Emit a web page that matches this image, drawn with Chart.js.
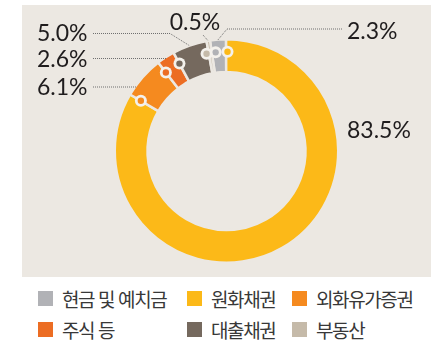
<!DOCTYPE html>
<html lang="ko">
<head>
<meta charset="utf-8">
<title>자산 구성</title>
<script src="https://cdn.jsdelivr.net/npm/chart.js@4.4.0/dist/chart.umd.min.js"></script>
<style>
  html, body { margin: 0; padding: 0; background: #fff; }
  #wrap { position: relative; width: 438px; height: 340px; overflow: hidden; }
  #panel { position: absolute; left: 22px; top: 5px; width: 409px; height: 272px; background: #ece8e2; }
  #legend { position: absolute; left: 38px; top: 290px; width: 400px; }
  .item { position: absolute; top: 0; display: flex; align-items: center; height: 16px; white-space: nowrap;
          font-family: "Noto Sans CJK KR", sans-serif; font-size: 19px; letter-spacing: -1.4px; color: #383838; }
  .box { width: 15px; height: 15px; margin-right: 9px; flex: none; }
</style>
</head>
<body>
<div id="wrap">
  <div id="panel"><canvas id="assetChart" width="409" height="272"></canvas></div>
  <div id="legend"></div>
</div>
<script>
var categories = ['현금 및 예치금', '원화채권', '외화유가증권', '주식 등', '대출채권', '부동산'];
var shares = [2.3, 83.5, 6.1, 2.6, 5.0, 0.5];
var colors = ['#b1b2b6', '#fcb918', '#f58a1f', '#ec6d23', '#75695e', '#c5baa9'];
var panelColor = '#ece8e2';

// legend grid: column of each item, row of each item
var legendCol = [0, 149, 254];
var legendPos = [[0, 0], [1, 0], [2, 0], [0, 1], [1, 1], [2, 1]];

var legend = document.getElementById('legend');
categories.forEach(function (name, i) {
    var item = document.createElement('div');
    item.className = 'item';
    item.style.left = legendCol[legendPos[i][0]] + 'px';
    item.style.top = (legendPos[i][1] * 31) + 'px';
    item.innerHTML = '<span class="box" style="background:' + colors[i] + '"></span><span>' + name + '</span>';
    legend.appendChild(item);
});

// where each value label sits and how its dotted leader runs to the ring
var calloutLayout = [
    { x: 325, y: 27, align: 'left', path: [[320, 24], [205, 24]], end: 'mid' },
    { x: 325, y: 126, align: 'left', path: [], end: null },
    { x: 15, y: 83, align: 'left', path: [[71, 82]], end: 'flat' },
    { x: 15, y: 55, align: 'left', path: [[71, 53.5]], end: 'flat' },
    { x: 15, y: 29, align: 'left', path: [[71, 28.5], [148, 28.5]], end: 'mid' },
    { x: 173, y: 18, align: 'center', path: [[181, 30]], end: 'mid' }
];
// small angle shifts (degrees) so neighbouring rings do not overlap
var markerNudge = [2.2, 0.8, 0, 0, 0, -1.3];

var calloutPlugin = {
    id: 'callouts',
    afterDatasetsDraw: function (chart) {
        var ctx = chart.ctx;
        var arcs = chart.getDatasetMeta(0).data;
        var bw = chart.data.datasets[0].borderWidth;
        ctx.save();

        // ring markers at the start of every slice
        arcs.forEach(function (arc, i) {
            var a = arc.startAngle + markerNudge[i] * Math.PI / 180;
            var r = arc.outerRadius - 12.5;
            var px = arc.x + r * Math.cos(a), py = arc.y + r * Math.sin(a);
            ctx.beginPath();
            ctx.arc(px, py, 6, 0, Math.PI * 2);
            ctx.fillStyle = '#f4f1ec';
            ctx.fill();
            ctx.beginPath();
            ctx.arc(px, py, 3.2, 0, Math.PI * 2);
            ctx.fillStyle = colors[i];
            ctx.fill();
        });

        // dotted leaders
        ctx.strokeStyle = '#6f6f6f';
        ctx.lineWidth = 1;
        ctx.setLineDash([1, 1]);
        arcs.forEach(function (arc, i) {
            var c = calloutLayout[i];
            if (!c.end) return;
            var R = arc.outerRadius - bw / 2;
            var pts = c.path.slice();
            if (c.end === 'mid') {
                var m = (arc.startAngle + arc.endAngle) / 2;
                pts.push([arc.x + (R + 1) * Math.cos(m), arc.y + (R + 1) * Math.sin(m)]);
            } else {
                var y = pts[0][1];
                var dy = y - arc.y;
                pts.push([arc.x - Math.sqrt(R * R - dy * dy), y]);
            }
            ctx.beginPath();
            ctx.moveTo(pts[0][0], pts[0][1]);
            for (var k = 1; k < pts.length; k++) ctx.lineTo(pts[k][0], pts[k][1]);
            ctx.stroke();
        });
        ctx.setLineDash([]);

        // value labels
        ctx.fillStyle = '#1f1c1d';
        ctx.font = '23px Lato, "Open Sans", sans-serif';
        ctx.textBaseline = 'middle';
        shares.forEach(function (v, i) {
            var c = calloutLayout[i];
            ctx.textAlign = c.align;
            ctx.fillText(v.toFixed(1) + '%', c.x, c.y);
        });
        ctx.restore();
    }
};

var ctx = document.getElementById('assetChart').getContext('2d');
var assetChart = new Chart(ctx, {
    type: 'doughnut',
    data: {
        labels: categories,
        datasets: [{
            data: shares,
            backgroundColor: colors,
            borderColor: panelColor,
            borderWidth: 2.5
        }]
    },
    options: {
        responsive: false,
        animation: false,
        rotation: -8.5,
        cutout: 79,
        layout: { padding: { top: 33, bottom: 13 } },
        plugins: {
            legend: { display: false },
            tooltip: { enabled: false }
        }
    },
    plugins: [calloutPlugin]
});
</script>
</body>
</html>
